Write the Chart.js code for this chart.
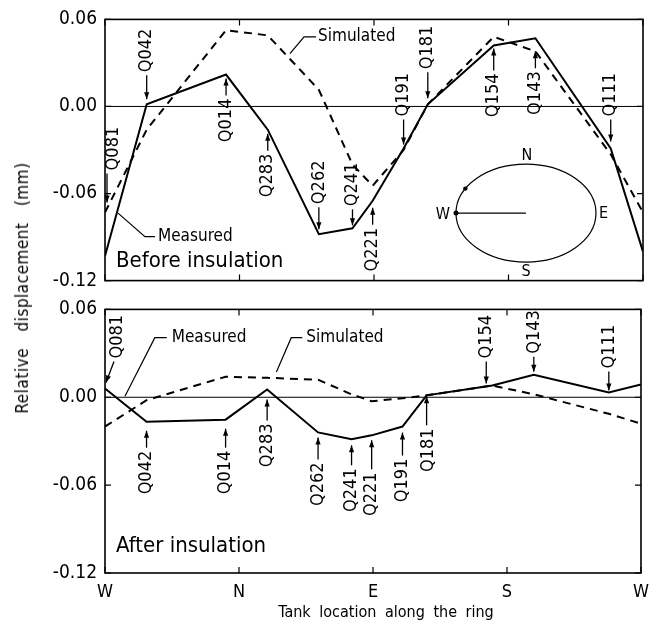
<!DOCTYPE html>
<html>
<head>
<meta charset="utf-8">
<script src="https://cdn.jsdelivr.net/npm/chart.js@4.4.1/dist/chart.umd.min.js"></script>
<style>
    body { margin: 0; background: #fff; }
    #wrap { position: relative; width: 658px; height: 626px; overflow: hidden; background: #fff; }
    .panel { position: absolute; left: 0; }
    .title { position: absolute; white-space: nowrap; color: #000;
             font-family: 'DejaVu Sans Condensed', 'Liberation Sans Narrow', 'Liberation Sans', sans-serif; }
    #ytitle { left: 22px; top: 288px; font-size: 17px; word-spacing: 11px; letter-spacing: 0.5px;
              transform: translate(-50%, -50%) rotate(-90deg); }
    #xtitle { left: 386px; top: 611px; font-size: 16px; word-spacing: 4px;
              transform: translate(-50%, -50%); }
</style>
</head>
<body>
<div id="wrap">
    <canvas id="top" class="panel" width="658" height="300" style="top:0px"></canvas>
    <canvas id="bottom" class="panel" width="658" height="336" style="top:290px"></canvas>
    <div id="ytitle" class="title">Relative displacement (mm)</div>
    <div id="xtitle" class="title">Tank location along the ring</div>
</div>
<script>
// positions along the ring: W=0, N=1, E=2, S=3, W=4
const dirLabels = ["W", "N", "E", "S", "W"];
const sensorNames = ["Q081", "Q042", "Q014", "Q283", "Q262", "Q241", "Q221", "Q191", "Q181", "Q154", "Q143", "Q111", "Q081"];
const sensorPos = [0, 0.31, 0.90, 1.21, 1.59, 1.84, 1.99, 2.22, 2.40, 2.89, 3.20, 3.76, 4];

const measuredBefore = [-0.103, 0.0015, 0.022, -0.016, -0.088, -0.084, -0.065, -0.029, 0.0015, 0.042, 0.047, -0.029, -0.100];
const simulatedBefore = [-0.073, -0.016, 0.0526, 0.049, 0.0115, -0.040, -0.0546, -0.030, 0.0015, 0.048, 0.038, -0.033, -0.073];
const measuredAfter = [0.006, -0.0167, -0.0153, 0.0053, -0.024, -0.0287, -0.026, -0.020, 0.0013, 0.008, 0.0153, 0.0033, 0.0087];
const simulatedAfter = [-0.020, -0.002, 0.014, 0.0133, 0.012, 0.002, -0.0027, -0.0007, 0.0013, 0.008, 0.002, -0.0113, -0.018];

const FONT = "'DejaVu Sans Condensed', 'Liberation Sans Narrow', 'Liberation Sans', sans-serif";

// sensor arrows: which line they point at, text above or below, gaps in px
const notesBefore = [
    { i: 0, on: "s", side: "above", gap: 10, off: 42, tipDx: 2, tailDx: 2, textDx: 8 },
    { i: 1, on: "m", side: "above", gap: 5, off: 32 },
    { i: 2, on: "m", side: "below", gap: 4, off: 24 },
    { i: 3, on: "m", side: "below", gap: 4, off: 24 },
    { i: 4, on: "m", side: "above", gap: 5, off: 30 },
    { i: 5, on: "m", side: "above", gap: 3, off: 22 },
    { i: 6, on: "m", side: "below", gap: 7, off: 27 },
    { i: 7, on: "m", side: "above", gap: 4, off: 32 },
    { i: 8, on: "m", side: "above", gap: 6, off: 35 },
    { i: 9, on: "m", side: "below", gap: 3, off: 28 },
    { i: 10, on: "m", side: "below", gap: 13, off: 33 },
    { i: 11, on: "m", side: "above", gap: 7, off: 32 }
];
const notesAfter = [
    { i: 0, on: "m", side: "above", gap: 6, off: 30, tipDx: 1, tailDx: 9, textDx: 12 },
    { i: 1, on: "m", side: "below", gap: 9, off: 29 },
    { i: 2, on: "m", side: "below", gap: 9, off: 31 },
    { i: 3, on: "m", side: "below", gap: 10, off: 34 },
    { i: 4, on: "m", side: "below", gap: 5, off: 30 },
    { i: 5, on: "m", side: "below", gap: 6, off: 29 },
    { i: 6, on: "m", side: "below", gap: 5, off: 37 },
    { i: 7, on: "m", side: "below", gap: 6, off: 32 },
    { i: 8, on: "m", side: "below", gap: 1, off: 33, textDx: 2 },
    { i: 9, on: "m", side: "above", gap: 2, off: 27, tipDx: -6, tailDx: -6, textDx: -6 },
    { i: 10, on: "m", side: "above", gap: 3, off: 21, textDx: 1 },
    { i: 11, on: "m", side: "above", gap: 2, off: 24 }
];

// series names with leader lines, in data units
const leadersBefore = [
    { text: "Simulated", at: [1.584, 0.0479], path: [[1.375, 0.0364], [1.48, 0.0479], [1.569, 0.0479]] },
    { text: "Measured", at: [0.394, -0.0897], path: [[0.097, -0.0735], [0.297, -0.0897], [0.372, -0.0897]] }
];
const leadersAfter = [
    { text: "Measured", at: [0.498, 0.0407], path: [[0.149, 0.0007], [0.372, 0.0407], [0.461, 0.0407]] },
    { text: "Simulated", at: [1.502, 0.0407], path: [[1.279, 0.0173], [1.390, 0.0407], [1.472, 0.0407]] }
];

function drawArrow(ctx, x1, y1, x2, y2) {
    ctx.beginPath();
    ctx.moveTo(x1, y1);
    ctx.lineTo(x2, y2);
    ctx.stroke();
    const a = Math.atan2(y2 - y1, x2 - x1), L = 7, W = 2.6;
    ctx.beginPath();
    ctx.moveTo(x2, y2);
    ctx.lineTo(x2 - L * Math.cos(a) + W * Math.sin(a), y2 - L * Math.sin(a) - W * Math.cos(a));
    ctx.lineTo(x2 - L * Math.cos(a) - W * Math.sin(a), y2 - L * Math.sin(a) + W * Math.cos(a));
    ctx.closePath();
    ctx.fill();
}

const decor = {
    id: "decor",
    afterDatasetsDraw(chart, args, opts) {
        const ctx = chart.ctx, a = chart.chartArea;
        const xs = chart.scales.x, ys = chart.scales.y;
        ctx.save();
        ctx.strokeStyle = "#000";
        ctx.fillStyle = "#000";

        // zero line
        ctx.lineWidth = 1;
        const y0 = ys.getPixelForValue(0);
        ctx.beginPath();
        ctx.moveTo(a.left, y0);
        ctx.lineTo(a.right, y0);
        ctx.stroke();

        // frame and inner ticks
        ctx.lineWidth = 1.6;
        ctx.strokeRect(a.left, a.top, a.right - a.left, a.bottom - a.top);
        ctx.lineWidth = 1.2;
        ctx.beginPath();
        xs.ticks.forEach(t => {
            const x = xs.getPixelForValue(t.value);
            ctx.moveTo(x, a.top); ctx.lineTo(x, a.top + 6);
            ctx.moveTo(x, a.bottom); ctx.lineTo(x, a.bottom - 6);
        });
        ys.ticks.forEach(t => {
            const y = ys.getPixelForValue(t.value);
            ctx.moveTo(a.left, y); ctx.lineTo(a.left + 6, y);
            ctx.moveTo(a.right, y); ctx.lineTo(a.right - 6, y);
        });
        ctx.stroke();

        // sensor arrows
        ctx.lineWidth = 1.3;
        ctx.font = "18px " + FONT;
        ctx.textBaseline = "middle";
        opts.notes.forEach(n => {
            const val = n.on === "m" ? opts.measured[n.i] : opts.simulated[n.i];
            const px = xs.getPixelForValue(sensorPos[n.i]);
            const py = ys.getPixelForValue(val);
            const s = n.side === "above" ? -1 : 1;
            const tipY = py + s * n.gap;
            const edgeY = py + s * n.off;
            drawArrow(ctx, px + (n.tailDx || 0), edgeY - s * 3, px + (n.tipDx || 0), tipY);
            ctx.save();
            ctx.translate(px + (n.textDx || 0), edgeY);
            ctx.rotate(-Math.PI / 2);
            ctx.textAlign = n.side === "above" ? "left" : "right";
            ctx.fillText(sensorNames[n.i], 0, 0);
            ctx.restore();
        });

        // series names
        ctx.lineWidth = 1.2;
        ctx.font = "17px " + FONT;
        ctx.textAlign = "left";
        opts.leaders.forEach(l => {
            ctx.beginPath();
            l.path.forEach((p, k) => {
                const x = xs.getPixelForValue(p[0]), y = ys.getPixelForValue(p[1]);
                if (k === 0) ctx.moveTo(x, y); else ctx.lineTo(x, y);
            });
            ctx.stroke();
            ctx.fillText(l.text, xs.getPixelForValue(l.at[0]), ys.getPixelForValue(l.at[1]));
        });

        // panel caption
        ctx.font = "22px " + FONT;
        ctx.fillText(opts.caption, xs.getPixelForValue(opts.captionAt[0]), ys.getPixelForValue(opts.captionAt[1]));

        // ring sketch
        if (opts.ring) {
            const cx = xs.getPixelForValue(opts.ring[0]), cy = ys.getPixelForValue(opts.ring[1]);
            const rx = 70, ry = 49;
            ctx.lineWidth = 1.2;
            ctx.beginPath();
            ctx.ellipse(cx, cy, rx, ry, 0, 0, Math.PI * 2);
            ctx.stroke();
            ctx.beginPath();
            ctx.moveTo(cx, cy);
            ctx.lineTo(cx - rx, cy);
            ctx.stroke();
            ctx.beginPath();
            ctx.arc(cx - rx, cy, 2.5, 0, Math.PI * 2);
            ctx.fill();
            const t = -150 * Math.PI / 180;
            ctx.beginPath();
            ctx.arc(cx + rx * Math.cos(t), cy + ry * Math.sin(t), 2.2, 0, Math.PI * 2);
            ctx.fill();
            ctx.font = "16px " + FONT;
            ctx.textAlign = "center";
            ctx.fillText("N", cx + 1, cy - ry - 8);
            ctx.fillText("S", cx, cy + ry + 10);
            ctx.textAlign = "left";
            ctx.fillText("E", cx + rx + 3, cy + 1);
            ctx.textAlign = "right";
            ctx.fillText("W", cx - rx - 6, cy + 2);
        }
        ctx.restore();
    }
};

function makePanel(id, measured, simulated, notes, leaders, caption, captionAt, ring, isBottom) {
    const pts = arr => sensorPos.map((x, k) => ({ x: x, y: arr[k] }));
    return new Chart(document.getElementById(id), {
        type: "line",
        data: {
            datasets: [
                { label: "Measured", data: pts(measured), borderColor: "#000", borderWidth: 2, pointRadius: 0, tension: 0 },
                { label: "Simulated", data: pts(simulated), borderColor: "#000", borderWidth: 2, borderDash: [8, 6], pointRadius: 0, tension: 0 }
            ]
        },
        options: {
            responsive: false,
            animation: false,
            layout: { padding: { top: 15, right: 15, left: 0, bottom: 0 } },
            plugins: {
                legend: { display: false },
                tooltip: { enabled: false },
                decor: { measured, simulated, notes, leaders, caption, captionAt, ring }
            },
            scales: {
                x: {
                    type: "linear", min: 0, max: 4,
                    grid: { display: false, drawTicks: false },
                    border: { display: false },
                    ticks: {
                        display: isBottom, stepSize: 1, autoSkip: false, maxRotation: 0, padding: 9,
                        color: "#000", font: { family: FONT, size: 18 },
                        callback: v => dirLabels[Math.round(v)]
                    },
                    afterFit: s => { s.height = isBottom ? 53 : 17; }
                },
                y: {
                    min: -0.12, max: 0.06,
                    grid: { display: false, drawTicks: false },
                    border: { display: false },
                    ticks: {
                        stepSize: 0.06, padding: 8, color: "#000", font: { family: FONT, size: 19 },
                        callback: v => Math.abs(v) < 1e-9 ? "0.00" : v.toFixed(2)
                    },
                    afterFit: s => { s.width = 105; }
                }
            }
        },
        plugins: [decor]
    });
}

makePanel("top", measuredBefore, simulatedBefore, notesBefore, leadersBefore,
    "Before insulation", [0.082, -0.1065], [3.13, -0.0735], false);
makePanel("bottom", measuredAfter, simulatedAfter, notesAfter, leadersAfter,
    "After insulation", [0.082, -0.102], null, true);
</script>
</body>
</html>
